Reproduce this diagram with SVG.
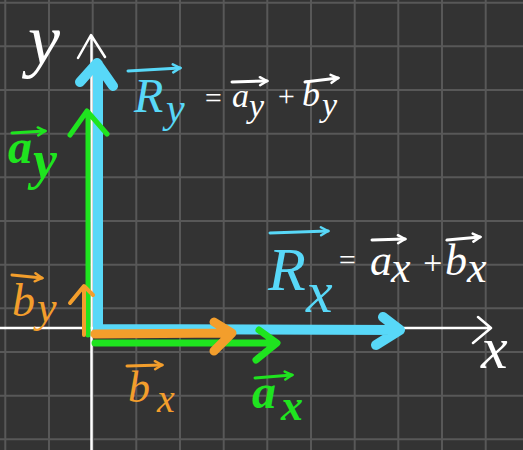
<svg xmlns="http://www.w3.org/2000/svg" width="523" height="450" viewBox="0 0 523 450">
<defs>
<style>
.grid{stroke:#585858;stroke-width:2;fill:none}
.ax{stroke:#ffffff;stroke-width:2.5;fill:none;stroke-linecap:round;stroke-linejoin:round}
.v{fill:none;stroke-linecap:round;stroke-linejoin:round}
.blue{stroke:#58D8F8}
.green{stroke:#1FE41F}
.orange{stroke:#F39E2C}
.white{stroke:#ffffff}
.t{font-family:"Liberation Serif","DejaVu Serif",serif;font-style:italic}
.tb{fill:#58D8F8}
.tg{fill:#1FE41F}
.to{fill:#F39E2C}
.tw{fill:#ffffff}
.sm{fill:none;stroke-width:3;stroke-linecap:round}
</style>
<marker id="hw" markerWidth="12" markerHeight="12" refX="10" refY="6" orient="auto" markerUnits="userSpaceOnUse"><path d="M3 2 L10 6 L3 10" fill="none" stroke="#ffffff" stroke-width="2.5" stroke-linecap="round"/></marker>
<marker id="hb" markerWidth="12" markerHeight="12" refX="10" refY="6" orient="auto" markerUnits="userSpaceOnUse"><path d="M3 2 L10 6 L3 10" fill="none" stroke="#58D8F8" stroke-width="2.5" stroke-linecap="round"/></marker>
<marker id="hg" markerWidth="12" markerHeight="12" refX="10" refY="6" orient="auto" markerUnits="userSpaceOnUse"><path d="M3 2 L10 6 L3 10" fill="none" stroke="#1FE41F" stroke-width="2.5" stroke-linecap="round"/></marker>
<marker id="ho" markerWidth="12" markerHeight="12" refX="10" refY="6" orient="auto" markerUnits="userSpaceOnUse"><path d="M3 2 L10 6 L3 10" fill="none" stroke="#F39E2C" stroke-width="2.5" stroke-linecap="round"/></marker>
</defs>
<rect width="523" height="450" fill="#333333"/>
<path class="grid" d="M5.3 0V450M49 0V450M92.7 0V450M136.3 0V450M180 0V450M223.7 0V450M267.3 0V450M311 0V450M354.7 0V450M398.3 0V450M442 0V450M485.7 0V450M0 2.7H523M0 46.3H523M0 90H523M0 133.7H523M0 177.3H523M0 221H523M0 264.7H523M0 308.3H523M0 352H523M0 395.7H523M0 439.3H523"/>
<g id="axes">
<path class="ax" d="M91.5 450V36M78 58L91 35L105 57"/>
<path class="ax" d="M0 328H490M478 317L491 328L473 343"/>
<text class="t tw" x="28" y="64" font-size="72">y</text>
<text class="t tw" x="481" y="368" font-size="60">x</text>
</g>
<g id="connectors">
<path class="v blue" stroke-width="10" d="M98 64L98 329L398 330M80 82L97 63L113 86M383 317L400 330L376 345"/>
<path class="v green" stroke-width="5" d="M88 335L88 112M70 135L87 111L107 134"/>
<path class="v green" stroke-width="7" d="M95 343L276 343M259 330L277 343L256 360"/>
<path class="v orange" stroke-width="9" d="M95 334L230 333M214 322L232 333L214 351"/>
<path class="v orange" stroke-width="4" d="M84 335L84 288M70 303L84 286L93 295"/>
</g>
<g id="label-Ry">
<path class="sm blue" d="M128 71L180 68" marker-end="url(#hb)"/>
<text class="t tb" x="134" y="112" font-size="48">R</text>
<text class="t tb" x="166" y="122" font-size="42">y</text>
<text class="t tw" x="203" y="108" font-size="30">=</text>
<path class="sm white" d="M232 82L267 81" marker-end="url(#hw)"/>
<text class="t tw" x="232" y="107" font-size="34">a</text>
<text class="t tw" x="249" y="117" font-size="34">y</text>
<text class="t tw" x="276" y="106" font-size="30">+</text>
<path class="sm white" d="M305 82L338 78" marker-end="url(#hw)"/>
<text class="t tw" x="302" y="106" font-size="36">b</text>
<text class="t tw" x="322" y="116" font-size="34">y</text>
</g>
<g id="label-Rx">
<path class="sm blue" d="M270 233L328 231" marker-end="url(#hb)"/>
<text class="t tb" x="268" y="290" font-size="62">R</text>
<text class="t tb" x="306" y="312" font-size="60">x</text>
<text class="t tw" x="337" y="270" font-size="30">=</text>
<path class="sm white" d="M372 240L405 239" marker-end="url(#hw)"/>
<text class="t tw" x="370" y="275" font-size="44">a</text>
<text class="t tw" x="391" y="282" font-size="44">x</text>
<text class="t tw" x="421" y="274" font-size="34">+</text>
<path class="sm white" d="M447 240L480 237" marker-end="url(#hw)"/>
<text class="t tw" x="445" y="275" font-size="44">b</text>
<text class="t tw" x="467" y="282" font-size="44">x</text>
</g>
<g id="label-ay">
<path class="sm green" d="M12 133L45 131" marker-end="url(#hg)"/>
<text class="t tg" x="8" y="163" font-size="48" font-weight="bold">a</text>
<text class="t tg" x="33" y="178" font-size="54" font-weight="bold">y</text>
</g>
<g id="label-by">
<path class="sm orange" d="M12 275L42 278" marker-end="url(#ho)"/>
<text class="t to" x="12" y="316" font-size="46">b</text>
<text class="t to" x="37" y="322" font-size="44">y</text>
</g>
<g id="label-bx">
<path class="sm orange" d="M127 366L162 365" marker-end="url(#ho)"/>
<text class="t to" x="128" y="402" font-size="44">b</text>
<text class="t to" x="157" y="412" font-size="40">x</text>
</g>
<g id="label-ax">
<path class="sm green" d="M255 378L292 375" marker-end="url(#hg)"/>
<text class="t tg" x="252" y="408" font-size="48" font-weight="bold">a</text>
<text class="t tg" x="281" y="420" font-size="44" font-weight="bold">x</text>
</g>
</svg>
